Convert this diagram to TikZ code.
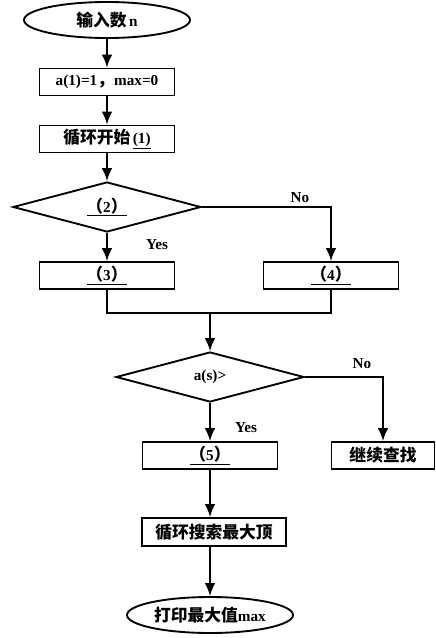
\documentclass[tikz,border=0pt]{standalone}
\usepackage{fontspec}
\setmainfont{Liberation Serif}
\newfontfamily\cjk[Scale=1.1]{Noto Sans CJK SC}
\usetikzlibrary{shapes.geometric,arrows.meta}

\begin{document}
\begin{tikzpicture}[>={Latex[length=11pt,width=9pt]},line width=1.6pt,
  font=\fontsize{13}{15}\selectfont\bfseries,
  box/.style={draw,rectangle,minimum width=4.05cm,minimum height=0.81cm,inner sep=0pt},
  term/.style={draw,ellipse,minimum width=4.98cm,minimum height=1.08cm,inner sep=0pt},
  test/.style={draw,diamond,aspect=3.76,minimum width=5.64cm,minimum height=1.5cm,inner sep=0pt}]
\def\h{0.03}
\def\punkt#1#2{({(#1)*\h},{-(#2)*\h})}
\newcommand\luecke[1]{\underline{\makebox[2.6em]{{\cjk （}#1{\cjk ）}}}}
\useasboundingbox \punkt{0}{0} rectangle \punkt{435}{638};

\node[term] (start) at \punkt{107}{20} {{\cjk 输入数}\,n};
\node[box] (init) at \punkt{107}{82} {a(1)=1{\cjk ，}max=0};
\node[box] (loop) at \punkt{107}{139} {{\cjk 循环开始}\,\underline{(1)}};
\node[test] (cond) at \punkt{107}{207} {\luecke{2}};
\node[box] (yes1) at \punkt{107}{275.5} {\luecke{3}};
\node[box] (no1) at \punkt{331}{275.5} {\luecke{4}};
\path \punkt{210}{313} coordinate (join);

\node[test] (cmp) at \punkt{210}{377} {a(s)>};
\node[box] (yes2) at \punkt{210}{455.5} {\luecke{5}};
\node[box,minimum width=3.09cm] (goon) at \punkt{383}{455.5} {{\cjk 继续查找}};
\node[box,minimum width=4.32cm,minimum height=0.84cm] (search) at \punkt{214}{532} {{\cjk 循环搜索最大顶}};
\node[term] (stop) at \punkt{210}{615} {{\cjk 打印最大值}max};

\node (no1lbl) at \punkt{300}{198} {No};
\node (yes1lbl) at \punkt{157}{245} {Yes};
\node (no2lbl) at \punkt{362}{364} {No};
\node (yes2lbl) at \punkt{246}{428} {Yes};

\draw[->] (start) -- (init);
\draw[->] (init) -- (loop);
\draw[->] (loop) -- (cond);
\draw[->] (cond) -- (yes1);
\draw[->] (cond.east) -| (no1);
\draw (yes1) |- (join) -| (no1);
\draw[->] (join) -- (cmp);

\draw[->] (cmp) -- (yes2);
\draw[->] (cmp.east) -| (goon);
\draw[->] (yes2) -- (yes2 |- search.north);
\draw[->] (search.south -| stop) -- (stop);

\end{tikzpicture}
\end{document}
